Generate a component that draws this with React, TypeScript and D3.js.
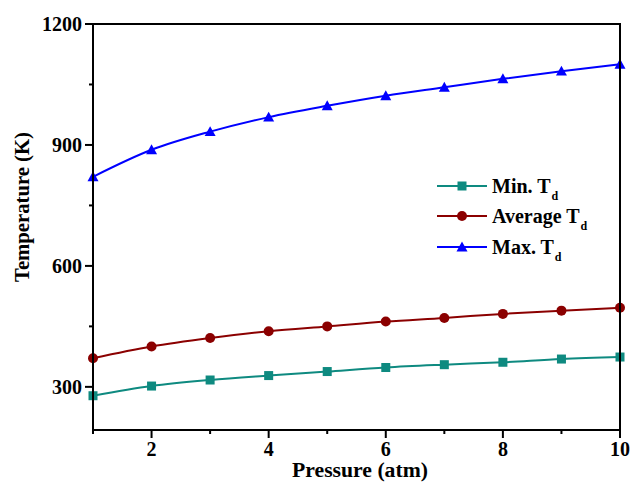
import React from "react";
import * as d3 from "d3";

const pressure = [1, 2, 3, 4, 5, 6, 7, 8, 9, 10];
const minTd = [278, 302, 317, 328, 338, 348, 355, 361, 369, 374];
const avgTd = [371, 400, 421, 438, 450, 462, 471, 481, 489, 496];
const maxTd = [821, 888, 933, 969, 997, 1022, 1043, 1064, 1083, 1100];
const xMajorTicks = [2, 4, 6, 8, 10];
const xMinorTicks = [1, 3, 5, 7, 9];
const yMajorTicks = [300, 600, 900, 1200];
const yMinorTicks = [450, 750, 1050];

const series = [
  { name: "Min. T", values: minTd, color: "#0e8a80", marker: "square" },
  { name: "Average T", values: avgTd, color: "#8b0000", marker: "circle" },
  { name: "Max. T", values: maxTd, color: "#0000ff", marker: "triangle" },
];

const W = 633;
const H = 482;
const L = 93, R = 620, T = 24, B = 430;
const FONT = "Liberation Serif, Times New Roman, serif";

function Marker({ type, x, y, color }: { type: string; x: number; y: number; color: string }) {
  if (type === "square") return <rect x={x - 4.5} y={y - 4.5} width={9} height={9} fill={color} />;
  if (type === "circle") return <circle cx={x} cy={y} r={5} fill={color} />;
  const s = 5.5;
  return <path d={`M${x},${y - s}L${x + s},${y + s * 0.8}L${x - s},${y + s * 0.8}Z`} fill={color} />;
}

export default function App() {
  const x = d3.scaleLinear().domain([1, 10]).range([L, R]);
  const y = d3.scaleLinear().domain([193, 1200]).range([B, T]);
  const line = d3
    .line<number>()
    .x((_, i) => x(pressure[i]))
    .y((d) => y(d))
    .curve(d3.curveMonotoneX);

  const legendX = 437;
  const legendY = [186, 216, 247];
  const textStyle = { fontFamily: FONT, fontWeight: 700 as const };

  return (
    <svg width={W} height={H} style={{ position: "absolute", left: 0, top: 0, background: "#fff" }}>
      <rect width={W} height={H} fill="#fff" />
      {series.map((s) => (
        <g key={s.name}>
          <path d={line(s.values) || ""} fill="none" stroke={s.color} strokeWidth={2} />
          {s.values.map((v, i) => (
            <Marker key={i} type={s.marker} x={x(pressure[i])} y={y(v)} color={s.color} />
          ))}
        </g>
      ))}
      <rect x={L} y={T} width={R - L} height={B - T} fill="none" stroke="#000" strokeWidth={2} />
      {yMajorTicks.map((t) => (
        <g key={t}>
          <line x1={L - 8} x2={L} y1={y(t)} y2={y(t)} stroke="#000" strokeWidth={2} />
          <text x={L - 11} y={y(t)} dy="0.36em" textAnchor="end" style={{ ...textStyle, fontSize: 20 }}>
            {t}
          </text>
        </g>
      ))}
      {yMinorTicks.map((t) => (
        <line key={t} x1={L - 4} x2={L} y1={y(t)} y2={y(t)} stroke="#000" strokeWidth={2} />
      ))}
      {xMajorTicks.map((t) => (
        <g key={t}>
          <line x1={x(t)} x2={x(t)} y1={B} y2={B + 8} stroke="#000" strokeWidth={2} />
          <text x={x(t)} y={B + 26} textAnchor="middle" style={{ ...textStyle, fontSize: 20 }}>
            {t}
          </text>
        </g>
      ))}
      {xMinorTicks.map((t) => (
        <line key={t} x1={x(t)} x2={x(t)} y1={B} y2={B + 4} stroke="#000" strokeWidth={2} />
      ))}
      <text
        x={360}
        y={477}
        textAnchor="middle"
        textLength={136}
        lengthAdjust="spacingAndGlyphs"
        style={{ ...textStyle, fontSize: 20 }}
      >
        Pressure (atm)
      </text>
      <text
        transform={`translate(29, 207) rotate(-90)`}
        textAnchor="middle"
        textLength={150}
        lengthAdjust="spacingAndGlyphs"
        style={{ ...textStyle, fontSize: 20 }}
      >
        Temperature (K)
      </text>
      {series.map((s, i) => (
        <g key={s.name}>
          <line x1={legendX} x2={legendX + 50} y1={legendY[i]} y2={legendY[i]} stroke={s.color} strokeWidth={2} />
          <Marker type={s.marker} x={legendX + 25} y={legendY[i]} color={s.color} />
          <text x={legendX + 55} y={legendY[i]} dy="0.35em" style={{ ...textStyle, fontSize: 20 }}>
            {s.name}
            <tspan style={{ fontSize: 12 }} dy="7" dx="1">d</tspan>
          </text>
        </g>
      ))}
    </svg>
  );
}
